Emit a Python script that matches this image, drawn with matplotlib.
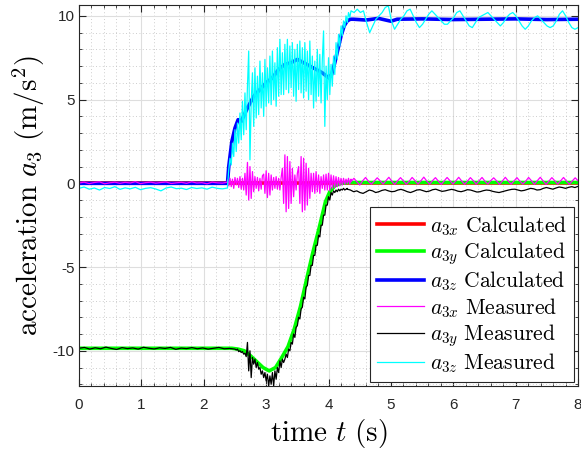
import numpy as np
import matplotlib
matplotlib.use("Agg")
import matplotlib.pyplot as plt
from matplotlib.ticker import MultipleLocator

# ------------------ Configurable ------------------
OUT_PNG = "out.png"
FIG_W, FIG_H, DPI = 5.81, 4.53, 100
# -------------------------------------------------

# ---- calculated accelerations (smooth) ----
calc_x_t = [0.0, 8.0]
calc_x_v = [0.0, 0.0]

calc_y_t = [0.0, 2.45, 2.55, 2.65, 2.75, 2.85, 2.95, 3.05, 3.15, 3.25, 3.35, 3.45,
            3.55, 3.65, 3.75, 3.85, 3.95, 4.02, 4.10, 4.20, 4.30, 8.0]
calc_y_v = [-9.85, -9.85, -9.9, -10.0, -10.3, -10.65, -11.0, -11.2, -11.0, -10.4, -9.75, -8.7,
            -7.35, -5.7, -4.1, -2.65, -1.1, -0.5, -0.15, 0.0, 0.05, 0.05]

calc_z_t = [0.0, 2.38, 2.40, 2.45, 2.50, 2.55, 2.60, 2.70, 2.80, 2.90, 3.00, 3.10, 3.20,
            3.30, 3.40, 3.50, 3.60, 3.70, 3.80, 3.90, 4.00, 4.05, 4.10, 4.15, 4.20, 4.25,
            4.30, 4.35, 4.40, 4.60, 4.80, 5.00, 5.10, 5.50, 6.00, 6.50, 7.00, 7.50, 8.0]
calc_z_v = [0.0, 0.0, 1.0, 2.5, 3.3, 3.8, 3.7, 4.5, 5.2, 5.6, 6.0, 6.3, 6.8,
            7.1, 7.2, 7.4, 7.2, 7.0, 6.8, 6.6, 6.3, 6.5, 7.2, 8.0, 8.8, 9.4,
            9.7, 9.8, 9.8, 9.75, 9.85, 9.68, 9.8, 9.82, 9.78, 9.8, 9.82, 9.78, 9.8]

# ---- measured a3x (segments: start, end, samples) ----
meas_x_pre = [0.02, 0.07, -0.02, 0.05, 0.09, -0.03, 0.03, 0.07, 0.0, 0.06, 0.02, 0.1,
              -0.02, 0.04, 0.07, 0.01, 0.05, 0.08, -0.01, 0.03, 0.06, 0.0, 0.09, 0.02,
              0.04, -0.03, 0.07, 0.03, 0.01, 0.07]
meas_x_mid = [0.2, -0.15, 0.3, -0.2, 0.25, -0.3, 0.35, -0.1, 0.3, -0.25,
              0.4, -0.35, 0.3, -0.4,
              0.6, -0.7, 1.25, -1.0, 1.0, -0.9, 0.7, -0.5,
              0.4, -0.3, 0.35, -0.45, 0.3, -0.35, 0.45,
              0.55, -0.6, 0.75, -0.85, 0.6, -0.7, 0.5, -0.4, 0.35,
              -0.3, 0.4, -0.35, 0.3, -0.4, 0.35,
              0.9, -1.2, 1.7, -1.7, 1.6, -1.5, 1.3, -1.2, 0.9, -0.8,
              0.5, -0.4, 0.6,
              1.0, -1.2, 1.6, -1.7, 1.5, -1.6, 1.2, -1.3, 0.9, -0.9, 0.6,
              -0.5, 0.6, -0.6, 0.7, -0.5, 0.5, -0.6, 0.4, -0.3, 0.5, -0.4,
              0.55, -0.4, 0.6, -0.45, 0.5, -0.3, 0.45, -0.25, 0.4, -0.2, 0.35,
              -0.15, 0.3, -0.1, 0.3, -0.05, 0.25, 0.0, 0.3, -0.05, 0.25]
meas_x_post = [0.1, 0.3, 0.1, -0.1, 0.15, 0.35, 0.12, -0.05, 0.14, 0.33, 0.15, -0.04,
               0.16, 0.36, 0.13, -0.06, 0.15, 0.34, 0.14, -0.05, 0.13, 0.35, 0.16, -0.04,
               0.15, 0.37, 0.14, -0.05, 0.16, 0.34, 0.13, -0.06, 0.14, 0.35, 0.15, -0.04,
               0.15, 0.36, 0.14, -0.05, 0.13, 0.34, 0.16, -0.05, 0.15, 0.35, 0.13, -0.04,
               0.16, 0.33, 0.15, -0.06, 0.14, 0.36, 0.14, -0.05, 0.15, 0.34, 0.13, -0.04,
               0.13, 0.35, 0.15, -0.05, 0.16, 0.36, 0.14, -0.06, 0.14, 0.34, 0.15, -0.04,
               0.15, 0.35, 0.13, -0.05, 0.14, 0.33, 0.15]

# ---- measured a3y ----
meas_y_pre = [-9.85, -9.8, -9.9, -9.82, -9.88, -9.78, -9.86, -9.92, -9.81, -9.87,
              -9.83, -9.9, -9.79, -9.85, -9.89, -9.82, -9.86, -9.8, -9.91, -9.84,
              -9.87, -9.81, -9.88, -9.83, -9.9, -9.85, -9.8, -9.88, -9.86, -9.9]
meas_y_mid = [-9.9, -9.95, -9.9, -10.05, -10.0,
              -10.1, -10.05, -10.2, -10.15, -10.35,
              -9.5, -11.2, -10.0, -11.6, -10.4,
              -10.8, -10.5, -11.0, -10.7, -11.1,
              -11.0, -11.4, -11.2, -11.6, -11.3,
              -11.8, -11.4, -12.1, -11.5, -12.0,
              -11.3, -12.1, -11.2, -11.7, -11.0,
              -11.3, -10.6, -11.0, -10.5, -10.7,
              -10.5, -10.2, -10.4, -9.9, -10.0,
              -9.5, -9.6, -9.0, -9.2, -8.6,
              -8.5, -8.0, -8.1, -7.5, -7.4,
              -6.8, -6.9, -6.2, -6.1, -5.5,
              -5.5, -4.9, -4.9, -4.3, -4.3,
              -3.7, -3.7, -3.1, -3.2, -2.5,
              -2.5, -1.9, -1.9, -1.3, -1.3,
              -0.8, -1.0, -0.55, -0.7, -0.45,
              -0.55, -0.4, -0.5, -0.35, -0.45,
              -0.35, -0.4, -0.3, -0.4, -0.35, -0.3]
meas_y_post = [-0.35, -0.4, -0.5, -0.45, -0.55, -0.6, -0.5, -0.4, -0.45, -0.55,
               -0.5, -0.42, -0.38, -0.45, -0.5, -0.48, -0.4, -0.36, -0.42, -0.5,
               -0.55, -0.48, -0.4, -0.38, -0.44, -0.5, -0.46, -0.38, -0.35, -0.42,
               -0.48, -0.45, -0.4, -0.36, -0.4, -0.47, -0.5, -0.45, -0.38, -0.4,
               -0.46, -0.52, -0.5, -0.44, -0.4, -0.42, -0.48, -0.52, -0.55, -0.5,
               -0.45, -0.4, -0.36, -0.35, -0.4, -0.45, -0.42, -0.36, -0.3, -0.33,
               -0.4, -0.38, -0.3, -0.25, -0.3, -0.35, -0.28, -0.22, -0.25, -0.3,
               -0.24, -0.2, -0.25, -0.18]

# ---- measured a3z ----
meas_z_pre = [-0.3, -0.22, -0.35, -0.28, -0.4, -0.25, -0.31, -0.2, -0.36, -0.27,
              -0.33, -0.24, -0.38, -0.3, -0.26, -0.34, -0.45, -0.28, -0.22, -0.32,
              -0.29, -0.37, -0.25, -0.31, -0.27, -0.35, -0.23, -0.3, -0.33, -0.28]
meas_z_mid = [-0.2, 0.8, 1.5, 1.1, 2.4,
              1.6, 3.2, 1.9, 3.6, 2.4,
              4.2, 2.6, 4.9, 2.9, 5.4,
              3.2, 5.8, 7.9, 1.4, 4.8,
              6.6, 3.4, 6.9, 3.9, 6.4,
              4.1, 7.3, 4.5, 6.6, 4.0,
              7.4, 4.6, 6.9, 4.8, 7.6,
              4.7, 7.9, 5.0, 7.2, 4.6,
              8.1, 5.2, 8.6, 5.3, 7.8,
              5.3, 8.3, 5.6, 8.6, 5.4,
              8.2, 5.7, 8.4, 5.2, 8.0,
              4.9, 8.3, 5.6, 8.5, 5.4,
              8.1, 5.1, 8.4, 5.5, 7.9,
              5.0, 8.5, 5.3, 7.6, 4.5,
              7.3, 4.9, 8.0, 5.2, 7.7,
              4.8, 7.4, 9.1, 3.4, 7.0,
              5.0, 7.5, 5.3, 7.1, 5.8,
              7.6, 6.5, 8.4, 7.4, 8.9,
              8.2, 9.4, 8.8, 9.7, 9.3,
              10.0, 9.6, 10.2, 9.9, 10.3]
meas_z_post = [10.3, 10.2, 10.4, 10.2, 10.3, 9.6, 9.0, 9.4, 9.8, 10.0,
               10.2, 10.5, 10.6, 9.7, 9.2, 9.5, 9.8, 10.0, 10.3, 10.4,
               10.0, 9.6, 9.3, 9.5, 9.8, 10.1, 10.3, 10.1, 9.9, 9.7,
               9.5, 9.5, 9.7, 9.9, 10.2, 10.3, 10.0, 9.7, 9.4, 9.3,
               9.6, 9.9, 10.0, 10.1, 10.2, 10.0, 9.8, 9.6, 9.4, 9.6,
               9.9, 10.1, 10.2, 10.0, 9.7, 9.4, 9.2, 9.4, 9.7, 9.9,
               10.0, 9.8, 9.6, 9.4, 9.3, 9.4, 9.7, 10.1, 10.3, 10.0,
               9.6, 9.3, 9.2, 9.3]

# segment time spans (s)
x_spans = [(0.0, 2.38), (2.38, 4.36), (4.36, 8.0)]
y_spans = [(0.0, 2.50), (2.50, 4.30), (4.30, 8.0)]
z_spans = [(0.0, 2.38), (2.38, 4.36), (4.36, 8.0)]

legend_labels = [
    r"$a_{3x}\ \mathrm{Calculated}$",
    r"$a_{3y}\ \mathrm{Calculated}$",
    r"$a_{3z}\ \mathrm{Calculated}$",
    r"$a_{3x}\ \mathrm{Measured}$",
    r"$a_{3y}\ \mathrm{Measured}$",
    r"$a_{3z}\ \mathrm{Measured}$",
]


def stitch(spans, parts):
    # each sampled segment is spread evenly over its own time span
    ts, vs = [], []
    for (t0, t1), vals in zip(spans, parts):
        ts.append(np.linspace(t0, t1, len(vals)))
        vs.append(np.asarray(vals, dtype=float))
    return np.concatenate(ts), np.concatenate(vs)


def main():
    plt.rcParams["mathtext.fontset"] = "cm"
    plt.rcParams["font.family"] = ["Liberation Sans", "DejaVu Sans"]
    plt.rcParams["axes.unicode_minus"] = False

    fig = plt.figure(figsize=(FIG_W, FIG_H), dpi=DPI)
    ax = fig.add_axes([0.136, 0.148, 0.859, 0.841])

    # 1) calculated
    ax.plot(calc_x_t, calc_x_v, color="#ff0000", lw=2.6, label=legend_labels[0])
    ax.plot(calc_y_t, calc_y_v, color="#00ff00", lw=2.6, label=legend_labels[1])
    ax.plot(calc_z_t, calc_z_v, color="#0000ff", lw=2.6, label=legend_labels[2])

    # 2) measured
    tx, vx = stitch(x_spans, [meas_x_pre, meas_x_mid, meas_x_post])
    ty, vy = stitch(y_spans, [meas_y_pre, meas_y_mid, meas_y_post])
    tz, vz = stitch(z_spans, [meas_z_pre, meas_z_mid, meas_z_post])
    ax.plot(tx, vx, color="#ff00ff", lw=0.9, label=legend_labels[3])
    ax.plot(ty, vy, color="#000000", lw=0.9, label=legend_labels[4])
    ax.plot(tz, vz, color="#00ffff", lw=0.9, label=legend_labels[5])

    # 3) axes styling (MATLAB-like)
    ax.set_xlim(0, 8)
    ax.set_ylim(-12.1, 10.65)
    ax.set_xticks(range(0, 9))
    ax.set_yticks([-10, -5, 0, 5, 10])
    ax.xaxis.set_minor_locator(MultipleLocator(0.2))
    ax.yaxis.set_minor_locator(MultipleLocator(1))
    ax.grid(which="major", color="#dedede", lw=0.8, ls="-")
    ax.grid(which="minor", color="#bdbdbd", lw=0.6, ls=(0, (1, 3)))
    ax.set_axisbelow(True)
    ax.tick_params(which="both", direction="in", top=True, right=True,
                   colors="#262626", labelsize=11)
    ax.tick_params(which="major", length=5)
    ax.tick_params(which="minor", length=2.5)
    ax.tick_params(axis="x", which="major", pad=9)
    ax.tick_params(axis="y", which="major", pad=3)
    for sp in ax.spines.values():
        sp.set_color("#262626")
        sp.set_linewidth(0.8)

    ax.set_xlabel(r"$\mathrm{time}\ t\ (\mathrm{s})$", fontsize=21, labelpad=3)
    ax.set_ylabel(r"$\mathrm{acceleration}\ a_3\ (\mathrm{m/s}^2)$", fontsize=21, labelpad=4)

    leg = ax.legend(loc="lower right", bbox_to_anchor=(1.0, 0.0), fontsize=15.5,
                    handlelength=2.2, handletextpad=0.3, labelspacing=0.12,
                    borderaxespad=0.2, borderpad=0.3, fancybox=False,
                    framealpha=1.0, edgecolor="#262626")
    leg.get_frame().set_linewidth(0.8)

    fig.savefig(OUT_PNG, dpi=DPI)
    plt.close(fig)


if __name__ == "__main__":
    main()
